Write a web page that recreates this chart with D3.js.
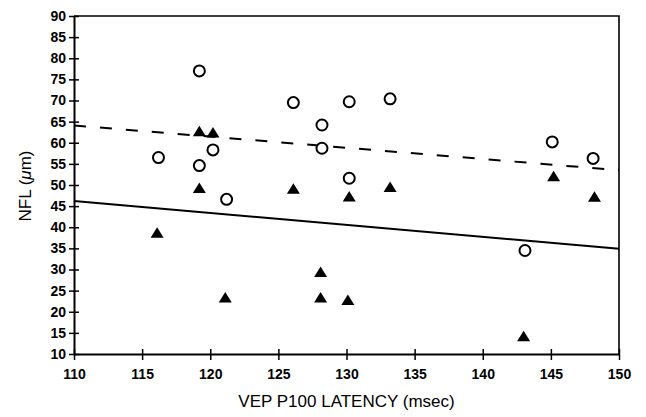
<!DOCTYPE html>
<html>
<head>
<meta charset="utf-8">
<script src="https://cdn.jsdelivr.net/npm/d3@7"></script>
<style>
  body { margin: 0; background: #fff; }
  text { font-family: "Liberation Sans", Arial, sans-serif; fill: #000; }
</style>
</head>
<body>
<div id="chart"></div>
<script>
// Open circles and filled triangles
const circleX = [116.2, 119.2, 119.2, 120.2, 121.2, 126.1, 128.2, 128.2, 130.2, 130.2, 133.2, 143.1, 145.1, 148.1];
const circleY = [56.5, 77, 54.6, 58.3, 46.6, 69.5, 64.2, 58.7, 51.6, 69.7, 70.4, 34.5, 60.2, 56.3];
const triX = [116.1, 119.2, 119.2, 120.2, 121.1, 126.1, 128.1, 128.1, 130.2, 130.1, 133.2, 143.0, 145.2, 148.2];
const triY = [38.7, 62.7, 49.3, 62.4, 23.4, 49.1, 29.4, 23.4, 47.3, 22.8, 49.5, 14.2, 52.1, 47.2];

// Fitted lines (end points)
const dashedLine = [[110, 64.1], [150, 53.5]];
const solidLine = [[110, 46.2], [150, 34.9]];

const xTicks = [110, 115, 120, 125, 130, 135, 140, 145, 150];
const yTicks = [10, 15, 20, 25, 30, 35, 40, 45, 50, 55, 60, 65, 70, 75, 80, 85, 90];

const svgWidth = 646, svgHeight = 417;
const margin = { top: 16, right: 27, bottom: 63, left: 74 };
const width = svgWidth - margin.left - margin.right;
const height = svgHeight - margin.top - margin.bottom;

const svg = d3.select('#chart').append('svg')
  .attr('width', svgWidth)
  .attr('height', svgHeight);

const g = svg.append('g')
  .attr('transform', `translate(${margin.left},${margin.top})`);

const x = d3.scaleLinear().domain([110, 150]).range([0, width]);
const y = d3.scaleLinear().domain([10, 90]).range([height, 0]);

// frame on top and right
g.append('path')
  .attr('d', `M0,0H${width}V${height}`)
  .attr('fill', 'none')
  .attr('stroke', '#000')
  .attr('stroke-width', 1.6);

// axes
const xAxis = g.append('g')
  .attr('transform', `translate(0,${height})`)
  .call(d3.axisBottom(x).tickValues(xTicks).tickSize(6).tickSizeOuter(0).tickPadding(9));
xAxis.selectAll('.tick line').attr('y1', -5).attr('stroke-width', 1.5);

const yAxis = g.append('g')
  .call(d3.axisLeft(y).tickValues(yTicks).tickSize(5).tickSizeOuter(0).tickPadding(3));
yAxis.selectAll('.tick line').attr('x1', 5).attr('x2', -5).attr('stroke-width', 1.5);

svg.selectAll('.domain').attr('stroke-width', 2);
svg.selectAll('.tick text')
  .attr('font-family', '"Liberation Sans", Arial, sans-serif')
  .attr('font-size', 14)
  .attr('font-weight', 'bold');

// fitted lines
const line = d3.line().x(d => x(d[0])).y(d => y(d[1]));
g.append('path')
  .datum(dashedLine)
  .attr('d', line)
  .attr('fill', 'none')
  .attr('stroke', '#000')
  .attr('stroke-width', 2)
  .attr('stroke-dasharray', '12,14');
g.append('path')
  .datum(solidLine)
  .attr('d', line)
  .attr('fill', 'none')
  .attr('stroke', '#000')
  .attr('stroke-width', 2);

// circles
g.selectAll('circle.pt')
  .data(circleX.map((v, i) => [v, circleY[i]]))
  .enter().append('circle')
  .attr('class', 'pt')
  .attr('cx', d => x(d[0]))
  .attr('cy', d => y(d[1]))
  .attr('r', 5.5)
  .attr('fill', '#fff')
  .attr('stroke', '#000')
  .attr('stroke-width', 2);

// triangles
g.selectAll('path.tri')
  .data(triX.map((v, i) => [v, triY[i]]))
  .enter().append('path')
  .attr('class', 'tri')
  .attr('d', d => {
    const cx = x(d[0]), cy = y(d[1]);
    return `M${cx},${cy - 5.5}L${cx + 6.5},${cy + 5}L${cx - 6.5},${cy + 5}Z`;
  })
  .attr('fill', '#000');

// axis titles
svg.append('text')
  .attr('x', margin.left + width / 2)
  .attr('y', 407)
  .attr('text-anchor', 'middle')
  .attr('font-size', 17)
  .text('VEP P100 LATENCY (msec)');

const yt = svg.append('text')
  .attr('transform', 'translate(31,186) rotate(-90)')
  .attr('text-anchor', 'middle')
  .attr('font-size', 17);
yt.append('tspan').text('NFL (');
yt.append('tspan').attr('font-style', 'italic').text('μ');
yt.append('tspan').text('m)');
</script>
</body>
</html>
